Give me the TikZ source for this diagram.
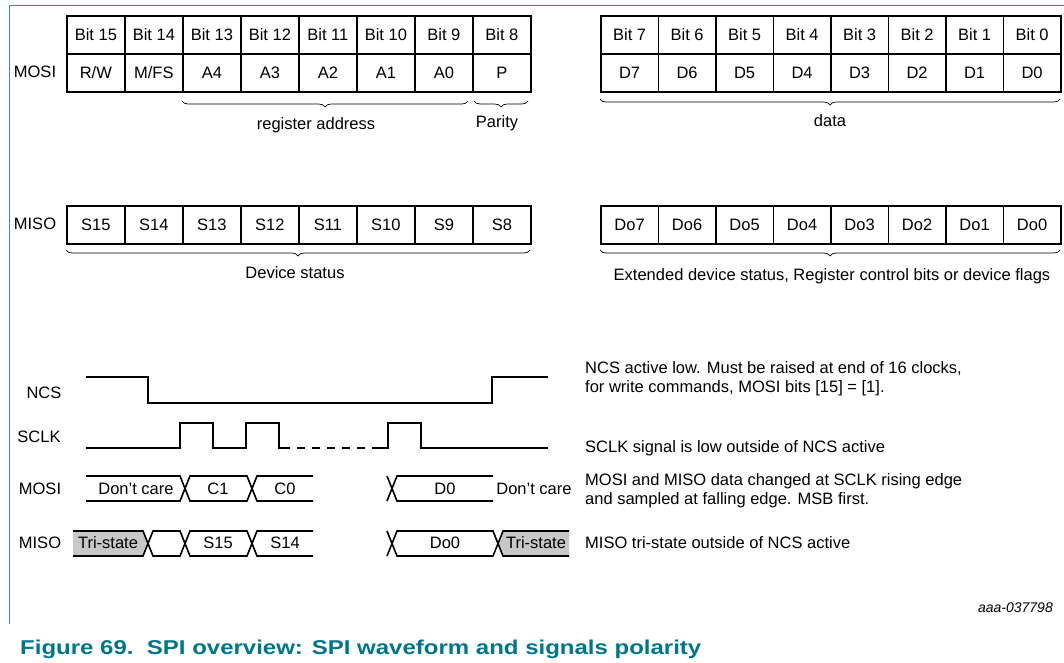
\documentclass[tikz,border=0pt]{standalone}
\usepackage{fontspec}
\setmainfont{Liberation Sans}
\newfontfamily\capfont[FakeStretch=1.2]{Liberation Sans}
\usetikzlibrary{decorations.pathreplacing}
\definecolor{frameblue}{RGB}{60,140,165}
\definecolor{captionteal}{RGB}{0,118,140}
\definecolor{tristate}{RGB}{200,200,200}
\newcommand{\fs}{\fontsize{16.5}{19.5}\selectfont}
\begin{document}
\begin{tikzpicture}[x=1pt,y=-1pt,
  cellA/.style={draw, line width=1.7pt, minimum width=58pt, minimum height=38pt, inner sep=0pt, anchor=north west, font=\fs},
  cellB/.style={draw, line width=1.7pt, minimum width=57.5pt, minimum height=38pt, inner sep=0pt, anchor=north west, font=\fs},
  lbl/.style={inner sep=0pt, font=\fs},
  note/.style={inner sep=0pt, anchor=west, font=\fs, align=left},
  brc/.style={decorate, decoration={brace, amplitude=6pt}, line width=0.7pt},
  wave/.style={line width=1.6pt, line join=miter},
]
\useasboundingbox (0,0) rectangle (1064,662);
% frame
\draw[frameblue, line width=1pt] (9,624) -- (9,5) -- (1064,5);

% MOSI table
\foreach \t [count=\i from 0] in {Bit 15,Bit 14,Bit 13,Bit 12,Bit 11,Bit 10,Bit 9,Bit 8}
  \node[cellA] (mh\i) at ({66+58*\i},15) {\t};
\foreach \t [count=\i from 0] in {R/W,M/FS,A4,A3,A2,A1,A0,P}
  \node[cellA] (md\i) at ({66+58*\i},53) {\t};
\foreach \t [count=\i from 0] in {Bit 7,Bit 6,Bit 5,Bit 4,Bit 3,Bit 2,Bit 1,Bit 0}
  \node[cellB] (dh\i) at ({600+57.5*\i},15) {\t};
\foreach \t [count=\i from 0] in {D7,D6,D5,D4,D3,D2,D1,D0}
  \node[cellB] (dd\i) at ({600+57.5*\i},53) {\t};
\node[lbl] (lmosi) at (35,72) {MOSI};

% MISO table
\foreach \t [count=\i from 0] in {S15,S14,S13,S12,S11,S10,S9,S8}
  \node[cellA] (sd\i) at ({66+58*\i},205) {\t};
\foreach \t [count=\i from 0] in {Do7,Do6,Do5,Do4,Do3,Do2,Do1,Do0}
  \node[cellB] (od\i) at ({600+57.5*\i},205) {\t};
\node[lbl] (lmiso) at (35,224) {MISO};

% braces
\draw[brc] (468,101) -- (182,101);
\node[lbl] (ra) at (316,125) {register address};
\draw[brc] (528,101) -- (474,101);
\node[lbl] (par) at (497,123) {Parity};
\draw[brc] (1060,99) -- (600,99);
\node[lbl] (dat) at (830,121) {data};
\draw[brc] (530,250) -- (66,250);
\node[lbl] (dst) at (295,273) {Device status};
\draw[brc] (1060,250) -- (600,250);
\node[lbl] (edst) at (832,276) {Extended device status, Register control bits or device flags};

% waveform labels
\node[lbl] (wncs) at (44,393) {NCS};
\node[lbl] (wsclk) at (39,437) {SCLK};
\node[lbl] (wmosi) at (40,489) {MOSI};
\node[lbl] (wmiso) at (40,543) {MISO};

% NCS
\draw[wave] (86,377) -- (148,377) -- (148,403) -- (492,403) -- (492,377) -- (548,377);
% SCLK
\draw[wave] (86,448) -- (180,448) -- (180,423) -- (213,423) -- (213,448) -- (246,448) -- (246,423) -- (279,423) -- (279,448) -- (290,448);
\draw[wave, dash pattern=on 8pt off 7pt] (297,448) -- (380,448);
\draw[wave] (380,448) -- (388,448) -- (388,423) -- (421,423) -- (421,448) -- (548,448);

% MOSI bus
\draw[wave] (86,476) -- (180,476) -- (190,501) -- (247,501) -- (257,476) -- (313,476);
\draw[wave] (86,501) -- (180,501) -- (190,476) -- (247,476) -- (257,501) -- (313,501);
\draw[wave] (387,476) -- (397,501) -- (493,501);
\draw[wave] (387,501) -- (397,476) -- (493,476);
\node[lbl] (mdc1) at (136,489) {Don't care};
\node[lbl] (mc1) at (218,489) {C1};
\node[lbl] (mc0) at (285,489) {C0};
\node[lbl] (md0w) at (445,489) {D0};
\node[lbl] (mdc2) at (534,489) {Don't care};

% MISO bus
\fill[tristate] (73,531) -- (143,531) -- (148,543.5) -- (143,556) -- (73,556) -- cycle;
\fill[tristate] (498,543.5) -- (503,531) -- (569,531) -- (569,556) -- (503,556) -- cycle;
\draw[wave] (73,531) -- (143,531) -- (153,556) -- (180,556) -- (190,531) -- (247,531) -- (257,556) -- (313,556);
\draw[wave] (73,556) -- (143,556) -- (153,531) -- (180,531) -- (190,556) -- (247,556) -- (257,531) -- (313,531);
\draw[wave] (387,531) -- (397,556) -- (493,556) -- (503,531) -- (569,531);
\draw[wave] (387,556) -- (397,531) -- (493,531) -- (503,556) -- (569,556);
\node[lbl] (mts1) at (108,543) {Tri-state};
\node[lbl] (ms15) at (218,543) {S15};
\node[lbl] (ms14) at (285,543) {S14};
\node[lbl] (mdo0) at (445,543) {Do0};
\node[lbl] (mts2) at (536,543) {Tri-state};

% notes
\node[note] (n1) at (585,369) {NCS active low. Must be raised at end of 16 clocks,};
\node[note] (n2) at (585,388) {for write commands, MOSI bits [15] = [1].};
\node[note] (n3) at (585,448) {SCLK signal is low outside of NCS active};
\node[note] (n4) at (585,481) {MOSI and MISO data changed at SCLK rising edge};
\node[note] (n5) at (585,500) {and sampled at falling edge. MSB first.};
\node[note] (n6) at (585,543) {MISO tri-state outside of NCS active};

\node[inner sep=0pt, anchor=east, font=\fontsize{14}{16}\selectfont\itshape] (aaa) at (1053,608) {aaa-037798};
\node[inner sep=0pt, anchor=west, text=captionteal, font=\capfont\fontsize{20}{24}\selectfont\bfseries] (cap) at (20,649) {Figure 69.\ \ SPI overview: SPI waveform and signals polarity};
\end{tikzpicture}
\end{document}
